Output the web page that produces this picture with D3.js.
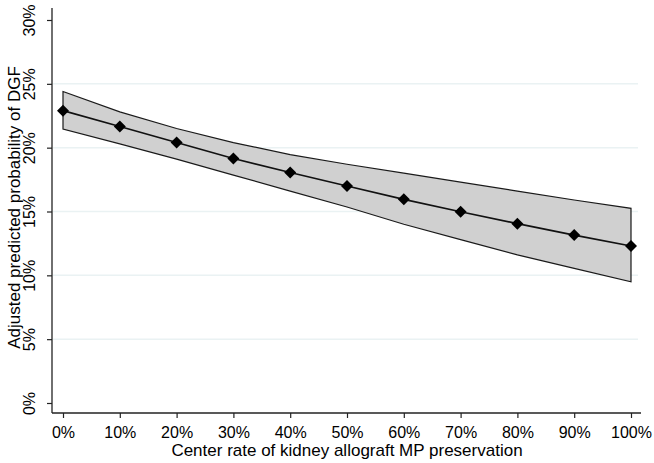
<!DOCTYPE html>
<html>
<head>
<meta charset="utf-8">
<script src="https://cdn.jsdelivr.net/npm/d3@7"></script>
<style>
  html, body { margin: 0; padding: 0; background: #fff; }
  svg text { font-family: Arial, "Liberation Sans", sans-serif; fill: #000; }
</style>
</head>
<body>
<svg id="chart" width="654" height="463"></svg>
<script>
// Center MP rate (%) vs adjusted predicted probability of DGF (%), with 95% CI band.
const rates     = [0, 10, 20, 30, 40, 50, 60, 70, 80, 90, 100];
const predicted = [22.9, 21.65, 20.4, 19.15, 18.05, 17.0, 15.95, 14.98, 14.05, 13.15, 12.3];
const upperCI   = [24.4, 22.8, 21.5, 20.4, 19.45, 18.7, 18.0, 17.3, 16.6, 15.9, 15.25];
const lowerCI   = [21.45, 20.3, 19.1, 17.85, 16.6, 15.35, 14.0, 12.8, 11.6, 10.55, 9.5];

const yTicks = [0, 5, 10, 15, 20, 25, 30];
const yGrid  = [5, 10, 15, 20, 25];
const xTicks = [0, 10, 20, 30, 40, 50, 60, 70, 80, 90, 100];

const svg = d3.select("#chart");

const x = d3.scaleLinear().domain([0, 100]).range([63, 631]);
const y = d3.scaleLinear().domain([0, 30]).range([403, 20]);

const axisLeft = 52, axisBottom = 413;

// Gridlines (very light, Stata-style).
svg.append("g").selectAll("line")
  .data(yGrid)
  .join("line")
  .attr("x1", axisLeft + 1).attr("x2", 638)
  .attr("y1", d => y(d)).attr("y2", d => y(d))
  .attr("stroke", "#eaf2f3")
  .attr("stroke-width", 1.5);

const rows = rates.map((r, i) => ({ r, p: predicted[i], lo: lowerCI[i], hi: upperCI[i] }));

// CI band.
const area = d3.area()
  .x(d => x(d.r))
  .y0(d => y(d.lo))
  .y1(d => y(d.hi));
svg.append("path")
  .attr("d", area(rows) + "Z")
  .attr("fill", "#d0d0d0")
  .attr("stroke", "#1a1a1a")
  .attr("stroke-width", 1.2)
  .attr("stroke-linejoin", "miter");

// Prediction line.
const line = d3.line().x(d => x(d.r)).y(d => y(d.p));
svg.append("path")
  .datum(rows)
  .attr("d", line)
  .attr("fill", "none")
  .attr("stroke", "#111")
  .attr("stroke-width", 1.6);

// Diamond markers.
svg.append("g").selectAll("path")
  .data(rows)
  .join("path")
  .attr("transform", d => `translate(${x(d.r)},${y(d.p)})`)
  .attr("d", "M0,-6L6,0L0,6L-6,0Z")
  .attr("fill", "#000");

// Y axis.
const yAxis = svg.append("g")
  .attr("transform", `translate(${axisLeft},0)`)
  .call(d3.axisLeft(y).tickValues(yTicks).tickSize(5).tickFormat(d => d + "%"));
yAxis.select(".domain").attr("d", `M0,8V${axisBottom}`).attr("stroke", "#222").attr("stroke-width", 1.3);
yAxis.selectAll(".tick line").attr("stroke", "#222").attr("stroke-width", 1.2);
yAxis.selectAll(".tick text")
  .attr("x", null).attr("dy", null).attr("y", null)
  .attr("transform", "translate(-17,0) rotate(-90)")
  .attr("text-anchor", "middle")
  .style("font-size", "16px");

// X axis.
const xAxis = svg.append("g")
  .attr("transform", `translate(0,${axisBottom})`)
  .call(d3.axisBottom(x).tickValues(xTicks).tickSize(5).tickFormat(d => d + "%"));
xAxis.select(".domain").attr("d", `M${axisLeft},0H641`).attr("stroke", "#222").attr("stroke-width", 1.3);
xAxis.selectAll(".tick line").attr("stroke", "#222").attr("stroke-width", 1.2);
xAxis.selectAll(".tick text")
  .attr("y", 14).attr("dy", "0.71em")
  .style("font-size", "16px");

// Axis titles.
svg.append("text")
  .attr("x", (x(0) + x(100)) / 2)
  .attr("y", 456)
  .attr("text-anchor", "middle")
  .style("font-size", "17px")
  .text("Center rate of kidney allograft MP preservation");

svg.append("text")
  .attr("transform", `translate(20,${(y(0) + y(30)) / 2 - 4}) rotate(-90)`)
  .attr("text-anchor", "middle")
  .style("font-size", "17px")
  .text("Adjusted predicted probability of DGF");
</script>
</body>
</html>
